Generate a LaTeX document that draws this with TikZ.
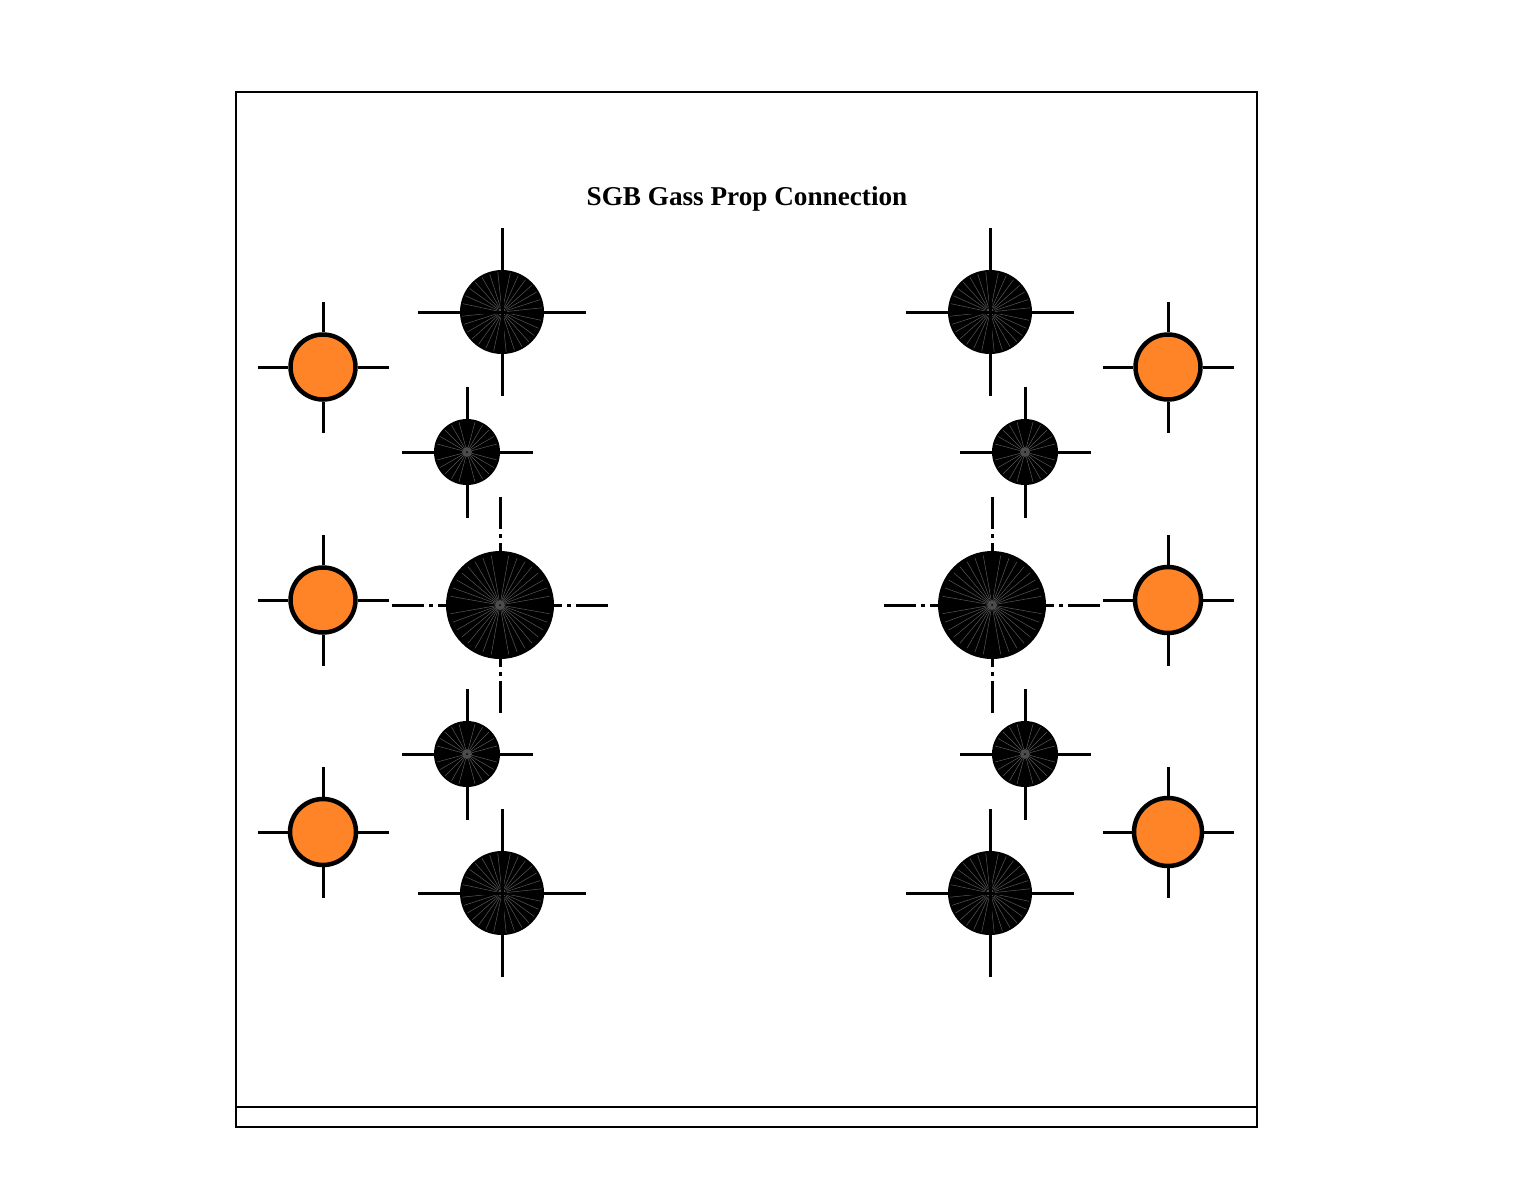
\documentclass[tikz,border=0pt]{standalone}
\usepackage{fontspec}
\setmainfont{Liberation Serif}
\usetikzlibrary{calc}

\tikzset{
  x=1pt, y=-1pt,
  framerule/.style={draw=black, line width=2pt},
  armline/.style={draw=black, line width=3pt},
  centerarm/.style={armline, dash pattern=on 32pt off 5pt on 4pt off 5pt on 80pt},
  rayline/.style={draw=black!65, line width=0.5pt},
  hubspot/.style={fill=black!70},
  orangedisc/.style={circle, draw=black, fill=propfill, line width=4.5pt, inner sep=0pt, minimum size=#1},
  blackdisc/.style={circle, draw=none, fill=black, inner sep=0pt, minimum size=#1},
}
\definecolor{propfill}{HTML}{FF8427}

\begin{document}
\begin{tikzpicture}
    \useasboundingbox (0,0) rectangle (1517,1195);
    \draw[framerule] (235.5,92) rectangle (1257,1127);
    \draw[framerule] (235.5,1107) -- (1257,1107);
    \node (title) at (747,199) {\fontsize{27.2}{30}\selectfont\bfseries SGB Gass Prop Connection};
    % orange props
    \foreach \name/\px/\py/\size in {oa/323/367/65, ob/323/600/65, oc/323/832/66,
                                     od/1168/367/65, oe/1168/600/66, of/1168/832/68}{
      \node[orangedisc=\size] (\name) at (\px,\py) {};
      \foreach \a in {0,90,180,270}{
        \coordinate (\name-\a) at ($(\px,\py)+(\a:65.5)$);
        \draw[armline] (\name) -- (\name-\a);
      }
    }
    % corner discs, arms run through
    \foreach \name/\px/\py in {ba/502/312, bb/990/312, bc/502/893, bd/990/893}{
      \node[blackdisc=84] (\name) at (\px,\py) {};
      \fill[hubspot] (\px,\py) circle[radius=4];
      \foreach \q in {0,90,180,270}{
        \foreach \b in {12,24,...,84}{
          \draw[rayline] ($(\px,\py)+(\q+\b:5)$) -- ($(\px,\py)+(\q+\b:40)$);
        }
        \coordinate (\name-\q) at ($(\px,\py)+(\q:84)$);
        \draw[armline] (\name.center) -- (\name-\q);
      }
    }
    % small discs
    \foreach \name/\px/\py in {sa/467/452, sb/1025/452, sc/467/754, sd/1025/754}{
      \node[blackdisc=66] (\name) at (\px,\py) {};
      \foreach \q in {0,90,180,270}{
        \foreach \b in {15,30,...,75}{
          \draw[rayline] ($(\px,\py)+(\q+\b:5)$) -- ($(\px,\py)+(\q+\b:31)$);
        }
        \coordinate (\name-\q) at ($(\px,\py)+(\q:65.5)$);
        \draw[armline] (\name) -- (\name-\q);
      }
      \fill[hubspot] (\px,\py) circle[radius=5];
      \fill[black] (\px,\py) circle[radius=1];
    }
    % big discs, dash dot arms
    \foreach \name/\px/\py in {ma/500/605, mb/992/605}{
      \node[blackdisc=108] (\name) at (\px,\py) {};
      \foreach \q in {0,90,180,270}{
        \foreach \b in {10,20,...,80}{
          \draw[rayline] ($(\px,\py)+(\q+\b:5)$) -- ($(\px,\py)+(\q+\b:50)$);
        }
        \coordinate (\name-\q) at ($(\px,\py)+(\q:108)$);
        \draw[centerarm] (\name-\q) -- (\name);
      }
      \fill[hubspot] (\px,\py) circle[radius=5];
      \fill[black] (\px,\py) circle[radius=1];
    }
  \end{tikzpicture}
\end{document}
